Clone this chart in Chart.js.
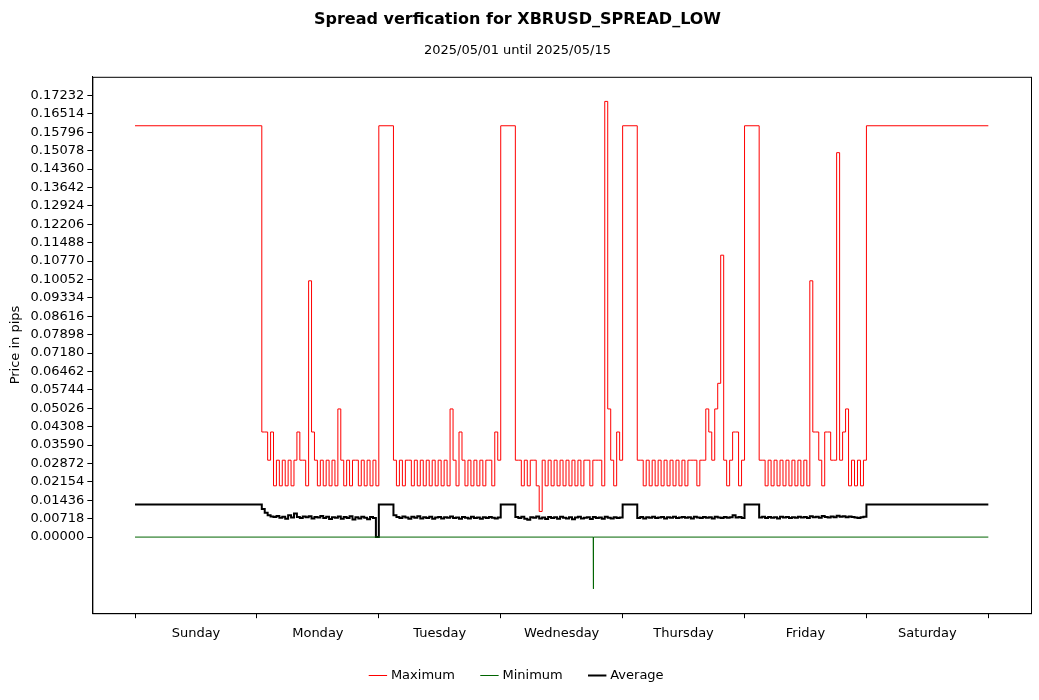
<!DOCTYPE html>
<html>
<head>
<meta charset="utf-8">
<script src="https://cdn.jsdelivr.net/npm/chart.js@4"></script>
<style>
  body { margin: 0; background: #fff; }
  #wrap { width: 1039px; height: 700px; }
</style>
</head>
<body>
<div id="wrap"><canvas id="spreadChart"></canvas></div>
<script>
const dayLabels = ["Sunday", "Monday", "Tuesday", "Wednesday", "Thursday", "Friday", "Saturday"];
const yTicks = [0, 0.00718, 0.01436, 0.02154, 0.02872, 0.0359, 0.04308, 0.05026, 0.05744, 0.06462, 0.0718, 0.07898,
  0.08616, 0.09334, 0.10052, 0.1077, 0.11488, 0.12206, 0.12924, 0.13642, 0.1436, 0.15078, 0.15796, 0.16514, 0.17232];

// session spans (in days from Sunday 00:00) where spread is quoted normally
const sessionStart = [1.04, 2.12, 3.12, 4.12, 5.12];
const sessionEnd = [2.0, 3.0, 4.0, 5.0, 6.0];
const closedMax = 0.1605;
const closedAvg = 0.0127;

const maxMon = [0.041,0.041,0.03,0.041,0.02,0.03,0.02,0.03,0.02,0.03,0.02,0.03,0.041,0.03,0.03,0.02,0.1,0.041,0.03,0.02,0.03,0.02,0.03,0.02,0.03,0.02,0.05,0.03,0.02,0.03,0.02,0.03,0.03,0.02,0.03,0.02,0.03,0.02,0.03,0.02];
const maxTue = [0.03,0.02,0.03,0.02,0.03,0.03,0.02,0.03,0.02,0.03,0.02,0.03,0.02,0.03,0.02,0.03,0.02,0.03,0.02,0.05,0.03,0.02,0.041,0.03,0.02,0.03,0.02,0.03,0.02,0.03,0.02,0.03,0.03,0.02,0.041,0.03];
const maxWed = [0.03,0.03,0.02,0.03,0.02,0.03,0.03,0.02,0.01,0.03,0.02,0.03,0.02,0.03,0.02,0.03,0.02,0.03,0.02,0.03,0.02,0.03,0.02,0.03,0.03,0.02,0.03,0.03,0.03,0.02,0.17,0.05,0.03,0.02,0.041,0.03];
const maxThu = [0.03,0.03,0.02,0.03,0.02,0.03,0.02,0.03,0.02,0.03,0.02,0.03,0.02,0.03,0.02,0.03,0.02,0.03,0.03,0.03,0.02,0.03,0.03,0.05,0.041,0.03,0.05,0.06,0.11,0.03,0.02,0.03,0.041,0.041,0.02,0.03];
const maxFri = [0.03,0.03,0.02,0.03,0.02,0.03,0.02,0.03,0.02,0.03,0.02,0.03,0.02,0.03,0.02,0.03,0.02,0.1,0.041,0.041,0.03,0.02,0.041,0.041,0.03,0.03,0.15,0.03,0.041,0.05,0.02,0.03,0.02,0.03,0.02,0.03];
const maxDays = [maxMon, maxTue, maxWed, maxThu, maxFri];

const avgMon = [0.011,0.0095,0.0085,0.008,0.0078,0.0082,0.0075,0.0079,0.0072,0.0085,0.0076,0.0092,0.0078,0.0074,0.008,0.0077,0.0081,0.0073,0.0078,0.0076,0.0082,0.0074,0.0079,0.0071,0.0077,0.0075,0.008,0.0072,0.0078,0.0074,0.0081,0.0069,0.0077,0.0073,0.0079,0.0075,0.007,0.0078,0.0074,0.0];
const avgTue = [0.0085,0.0078,0.0074,0.008,0.0076,0.0072,0.0079,0.0075,0.0081,0.0073,0.0077,0.0074,0.0079,0.0072,0.0076,0.0078,0.0073,0.0077,0.0075,0.008,0.0074,0.0076,0.0072,0.0078,0.0075,0.0073,0.0079,0.0074,0.0076,0.0072,0.0077,0.0074,0.0078,0.0075,0.0073,0.0076];
const avgWed = [0.0078,0.0074,0.0079,0.0072,0.0068,0.0077,0.0075,0.008,0.0073,0.0076,0.0071,0.0078,0.0074,0.0077,0.0072,0.0079,0.0075,0.0073,0.0077,0.007,0.0076,0.0079,0.0073,0.0075,0.0077,0.0071,0.0078,0.0074,0.0076,0.0072,0.0079,0.0075,0.0073,0.0077,0.0074,0.0076];
const avgThu = [0.0074,0.0078,0.0073,0.0077,0.0075,0.0079,0.0074,0.0076,0.0078,0.0073,0.0077,0.0075,0.0079,0.0074,0.0076,0.0078,0.0075,0.0077,0.0073,0.0079,0.0076,0.0074,0.0078,0.0075,0.0077,0.0073,0.0079,0.0076,0.0074,0.0078,0.0075,0.0077,0.0085,0.0076,0.0078,0.0074];
const avgFri = [0.0076,0.0079,0.0074,0.0078,0.0075,0.0077,0.0073,0.0079,0.0076,0.0078,0.0074,0.0077,0.0075,0.0079,0.0076,0.0078,0.0074,0.0081,0.0077,0.0079,0.0075,0.0082,0.0078,0.0076,0.008,0.0077,0.0083,0.0079,0.0081,0.0077,0.008,0.0078,0.0076,0.0074,0.0077,0.0079];
const avgDays = [avgMon, avgTue, avgWed, avgThu, avgFri];

const minSpikeDay = 3.76;
const minSpikeValue = -0.0202;

function buildSeries(dayVals, closedVal) {
  const pts = [{ x: 0, y: closedVal }];
  dayVals.forEach((vals, d) => {
    const s = sessionStart[d], e = sessionEnd[d];
    const step = (e - s) / vals.length;
    vals.forEach((v, i) => pts.push({ x: s + i * step, y: v }));
    pts.push({ x: e, y: closedVal });
  });
  pts.push({ x: 7, y: closedVal });
  return pts;
}

const maxPts = buildSeries(maxDays, closedMax);
const avgPts = buildSeries(avgDays, closedAvg);
const minPts = [{ x: 0, y: 0 }, { x: minSpikeDay - 0.001, y: 0 }, { x: minSpikeDay, y: minSpikeValue }, { x: minSpikeDay + 0.001, y: 0 }, { x: 7, y: 0 }];

// frame around plot area and legend, matplotlib style
const framePlugin = {
  id: "frame",
  afterDraw(chart) {
    const { ctx, chartArea: a, legend } = chart;
    ctx.save();
    ctx.strokeStyle = "#000";
    ctx.lineWidth = 1;
    ctx.strokeRect(a.left + 0.5, a.top + 0.5, a.right - a.left, a.bottom - a.top);
    if (legend) {
      ctx.strokeStyle = "#ccc";
      ctx.strokeRect(legend.left + 0.5 + (legend.width - legend.legendWidth) / 2, legend.top + 4.5, legend.legendWidth, 24);
    }
    ctx.restore();
  }
};

const ctx = document.getElementById("spreadChart").getContext("2d");
new Chart(ctx, {
  type: "line",
  data: {
    datasets: [
      { label: "Maximum", data: maxPts, borderColor: "#ff0000", borderWidth: 1, stepped: "before", pointRadius: 0 },
      { label: "Minimum", data: minPts, borderColor: "#006400", borderWidth: 1, pointRadius: 0 },
      { label: "Average", data: avgPts, borderColor: "#000000", borderWidth: 2, stepped: "before", pointRadius: 0 }
    ]
  },
  options: {
    responsive: true,
    maintainAspectRatio: false,
    animation: false,
    layout: { padding: { left: 4, right: 8, top: 4, bottom: 8 } },
    scales: {
      x: {
        type: "linear",
        min: -0.35,
        max: 7.35,
        afterBuildTicks: axis => { axis.ticks = [0, 1, 2, 3, 4, 5, 6, 7].map(v => ({ value: v })); },
        grid: { display: true, drawOnChartArea: false, drawTicks: true, tickLength: 5, color: "#000" },
        border: { color: "#000" },
        ticks: { color: "rgba(0,0,0,0)", font: { size: 1 }, callback: () => "" }
      },
      x2: {
        type: "linear",
        position: "bottom",
        min: -0.35,
        max: 7.35,
        afterBuildTicks: axis => { axis.ticks = dayLabels.map((_, i) => ({ value: i + 0.5 })); },
        grid: { display: false, drawTicks: false },
        border: { display: false },
        ticks: { color: "#000", font: { size: 13, family: "DejaVu Sans" }, padding: 0,
          callback: v => dayLabels[Math.round(v - 0.5)] }
      },
      y: {
        min: -0.0297,
        max: 0.1796,
        afterBuildTicks: axis => { axis.ticks = yTicks.map(v => ({ value: v })); },
        grid: { display: true, drawOnChartArea: false, tickLength: 5, color: "#000" },
        border: { color: "#000" },
        title: { display: true, text: "Price in pips", color: "#000", font: { size: 13, family: "DejaVu Sans" } },
        ticks: { color: "#000", font: { size: 13, family: "DejaVu Sans" }, autoSkip: false,
          callback: v => v.toFixed(5) }
      }
    },
    plugins: {
      title: { display: true, text: "Spread verfication for XBRUSD_SPREAD_LOW", color: "#000",
        font: { size: 16, weight: "bold", family: "DejaVu Sans" }, padding: { top: 6, bottom: 14 } },
      subtitle: { display: true, text: "2025/05/01 until 2025/05/15", color: "#000",
        font: { size: 13, family: "DejaVu Sans" }, padding: { bottom: 18 } },
      legend: {
        position: "bottom",
        labels: { color: "#000", usePointStyle: true, pointStyle: "line", boxWidth: 30,
          font: { size: 13, family: "DejaVu Sans" }, padding: 28 }
      },
      tooltip: { enabled: false }
    }
  },
  plugins: [framePlugin]
});
</script>
</body>
</html>
